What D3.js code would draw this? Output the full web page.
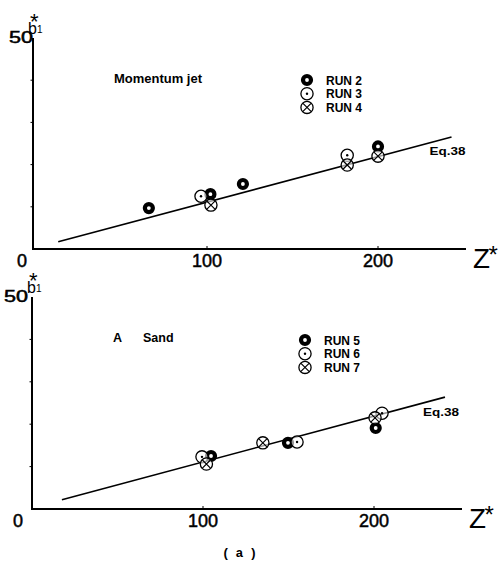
<!DOCTYPE html>
<html>
<head>
<meta charset="utf-8">
<script src="https://cdn.jsdelivr.net/npm/d3@7"></script>
<style>
  html, body { margin: 0; padding: 0; background: #fff; }
  svg { display: block; }
  text { font-family: "Liberation Sans", Arial, sans-serif; fill: #000; }
</style>
</head>
<body>
<svg id="chart" width="499" height="562"></svg>
<script>
// Axis tick values and labels
const zTickValues = [0, 100, 200];
const zTickLabels = ["0", "100", "200"];
const bTickMarks = [10, 20, 30, 40];
const bTickLabels = ["0", "50"];

// Momentum jet runs: [Z*, b1*]
const run2 = [[66, 9.7], [102, 13.0], [121, 15.4], [200, 24.3]];
const run3 = [[96.5, 12.5], [182, 22.2]];
const run4 = [[102.3, 10.4], [182, 19.9], [200, 22.0]];

// A Sand runs: [Z*, b1*]
const run5 = [[104.7, 12.5], [149.7, 15.6], [201, 19.1]];
const run6 = [[99.4, 12.3], [155, 15.8], [204.7, 22.6]];
const run7 = [[102, 10.6], [135, 15.6], [200.6, 21.5]];

// Eq.38 straight line b1* = slope * Z* + intercept
const eq38Slope = 0.108;
const eq38Intercept = 0.3;
const eq38RangeTop = [13, 243];
const eq38RangeBottom = [17.5, 241.5];

const svg = d3.select("#chart");

// marker painters
function drawMarker(g, kind, cx, cy) {
  const r = 6.1;
  if (kind === "solid") {
    g.append("circle").attr("cx", cx).attr("cy", cy).attr("r", 4.0)
      .attr("fill", "none").attr("stroke", "#000").attr("stroke-width", 4.2);
  } else if (kind === "dot") {
    g.append("circle").attr("cx", cx).attr("cy", cy).attr("r", r)
      .attr("fill", "#fff").attr("fill-opacity", 0.6).attr("stroke", "#000").attr("stroke-width", 1.3);
    g.append("circle").attr("cx", cx).attr("cy", cy).attr("r", 1.2).attr("fill", "#000");
  } else {
    g.append("circle").attr("cx", cx).attr("cy", cy).attr("r", r)
      .attr("fill", "#fff").attr("fill-opacity", 0.6).attr("stroke", "#000").attr("stroke-width", 1.3);
    const d = r * 0.66;
    g.append("path")
      .attr("d", `M${cx - d},${cy - d}L${cx + d},${cy + d}M${cx - d},${cy + d}L${cx + d},${cy - d}`)
      .attr("stroke", "#000").attr("stroke-width", 1.2);
  }
}

function drawPanel(p) {
  const g = svg.append("g");
  const x = d3.scaleLinear().domain([0, 100]).range([p.x0, p.x0 + 171]);
  const y = d3.scaleLinear().domain([0, 50]).range([p.y0, p.y50]);

  // axes
  g.append("path")
    .attr("d", `M${p.axisX},${p.y50}V${p.y0}H${p.axisEnd}`)
    .attr("fill", "none").attr("stroke", "#000").attr("stroke-width", 2);

  // y tick marks (left of axis)
  g.selectAll(".yt").data(bTickMarks).enter().append("line")
    .attr("x1", p.axisX - 2.5).attr("x2", p.axisX)
    .attr("y1", d => y(d)).attr("y2", d => y(d))
    .attr("stroke", "#000").attr("stroke-width", 1);

  // x tick marks
  g.selectAll(".xt").data(zTickValues.slice(1)).enter().append("line")
    .attr("x1", d => x(d)).attr("x2", d => x(d))
    .attr("y1", p.y0 - 3).attr("y2", p.y0)
    .attr("stroke", "#000").attr("stroke-width", 1);

  // x tick labels
  g.selectAll(".xl").data(zTickValues).enter().append("text")
    .attr("x", (d, i) => i === 0 ? p.zeroX : x(d))
    .attr("y", p.y0 + 18)
    .attr("text-anchor", "middle")
    .style("font-size", "18px").style("stroke", "#000").style("stroke-width", 0.5)
    .text((d, i) => zTickLabels[i]);

  // y "50" label
  g.append("text").attr("x", p.fiftyRight).attr("y", y(50) + 5)
    .attr("text-anchor", "end").style("font-size", "16px")
    .style("stroke", "#000").style("stroke-width", 0.5)
    .attr("textLength", 24).attr("lengthAdjust", "spacingAndGlyphs")
    .text(bTickLabels[1]);

  // b1* axis title
  const bt = g.append("text").attr("x", p.axisX - 5).attr("y", y(50) - 4.5).style("font-size", "16px");
  bt.append("tspan").text("b");
  bt.append("tspan").attr("dy", -0.5).style("font-size", "10px").text("1");
  g.append("text").attr("x", p.axisX - 3).attr("y", y(50) - 9).style("font-size", "22px").text("*");

  // Z* axis title
  g.append("text").attr("x", p.axisEnd + 7).attr("y", p.y0 + 19)
    .style("font-size", "27px").attr("textLength", 17).attr("lengthAdjust", "spacingAndGlyphs").text("Z");
  g.append("text").attr("x", p.axisEnd + 22.5).attr("y", p.y0 + 14)
    .style("font-size", "24px").text("*");

  // panel title
  p.title(g);

  // Eq.38 line
  const line = d3.line().x(d => x(d)).y(d => y(eq38Slope * d + eq38Intercept));
  g.append("path").datum(p.eqRange).attr("d", line)
    .attr("fill", "none").attr("stroke", "#000").attr("stroke-width", 1.6);
  const endZ = p.eqRange[1];
  g.append("text").attr("x", x(endZ) - 22).attr("y", y(eq38Slope * endZ + eq38Intercept) + 18.5)
    .style("font-size", "11.5px").style("font-weight", "bold")
    .attr("textLength", 36).attr("lengthAdjust", "spacingAndGlyphs").text("Eq.38");

  // points
  p.series.forEach(s => {
    s.data.forEach(d => drawMarker(g, s.kind, x(d[0]), y(d[1])));
  });

  // legend
  p.series.forEach((s, i) => {
    const ly = p.legY + i * 13.7;
    drawMarker(g, s.kind, p.legX, ly);
    g.append("text").attr("x", p.legX + 19).attr("y", ly + 4.5)
      .style("font-size", "12px").style("font-weight", "bold")
      .text(s.name);
  });
}

drawPanel({
  x0: 36, axisX: 33, axisEnd: 466, y0: 249, y50: 38, zeroX: 22, fiftyRight: 33,
  eqRange: eq38RangeTop, legX: 307, legY: 80,
  series: [
    { name: "RUN 2", kind: "solid", data: run2 },
    { name: "RUN 3", kind: "dot", data: run3 },
    { name: "RUN 4", kind: "cross", data: run4 }
  ],
  title: g => g.append("text").attr("x", 114).attr("y", 83)
    .style("font-size", "13px").style("font-weight", "bold")
    .attr("textLength", 88).attr("lengthAdjust", "spacingAndGlyphs").text("Momentum jet")
});

drawPanel({
  x0: 32, axisX: 32, axisEnd: 462, y0: 509, y50: 297, zeroX: 18, fiftyRight: 28,
  eqRange: eq38RangeBottom, legX: 305, legY: 340,
  series: [
    { name: "RUN 5", kind: "solid", data: run5 },
    { name: "RUN 6", kind: "dot", data: run6 },
    { name: "RUN 7", kind: "cross", data: run7 }
  ],
  title: g => {
    g.append("text").attr("x", 113).attr("y", 342)
      .style("font-size", "12.5px").style("font-weight", "bold").text("A");
    g.append("text").attr("x", 143).attr("y", 342)
      .style("font-size", "12.5px").style("font-weight", "bold").text("Sand");
  }
});

// figure caption
svg.append("text").attr("x", 222).attr("y", 557)
  .style("font-family", "'Liberation Mono', 'DejaVu Sans Mono', monospace").style("font-size", "13px")
  .style("font-weight", "bold")
  .attr("textLength", 35).attr("lengthAdjust", "spacing")
  .text("(a)");
</script>
</body>
</html>
